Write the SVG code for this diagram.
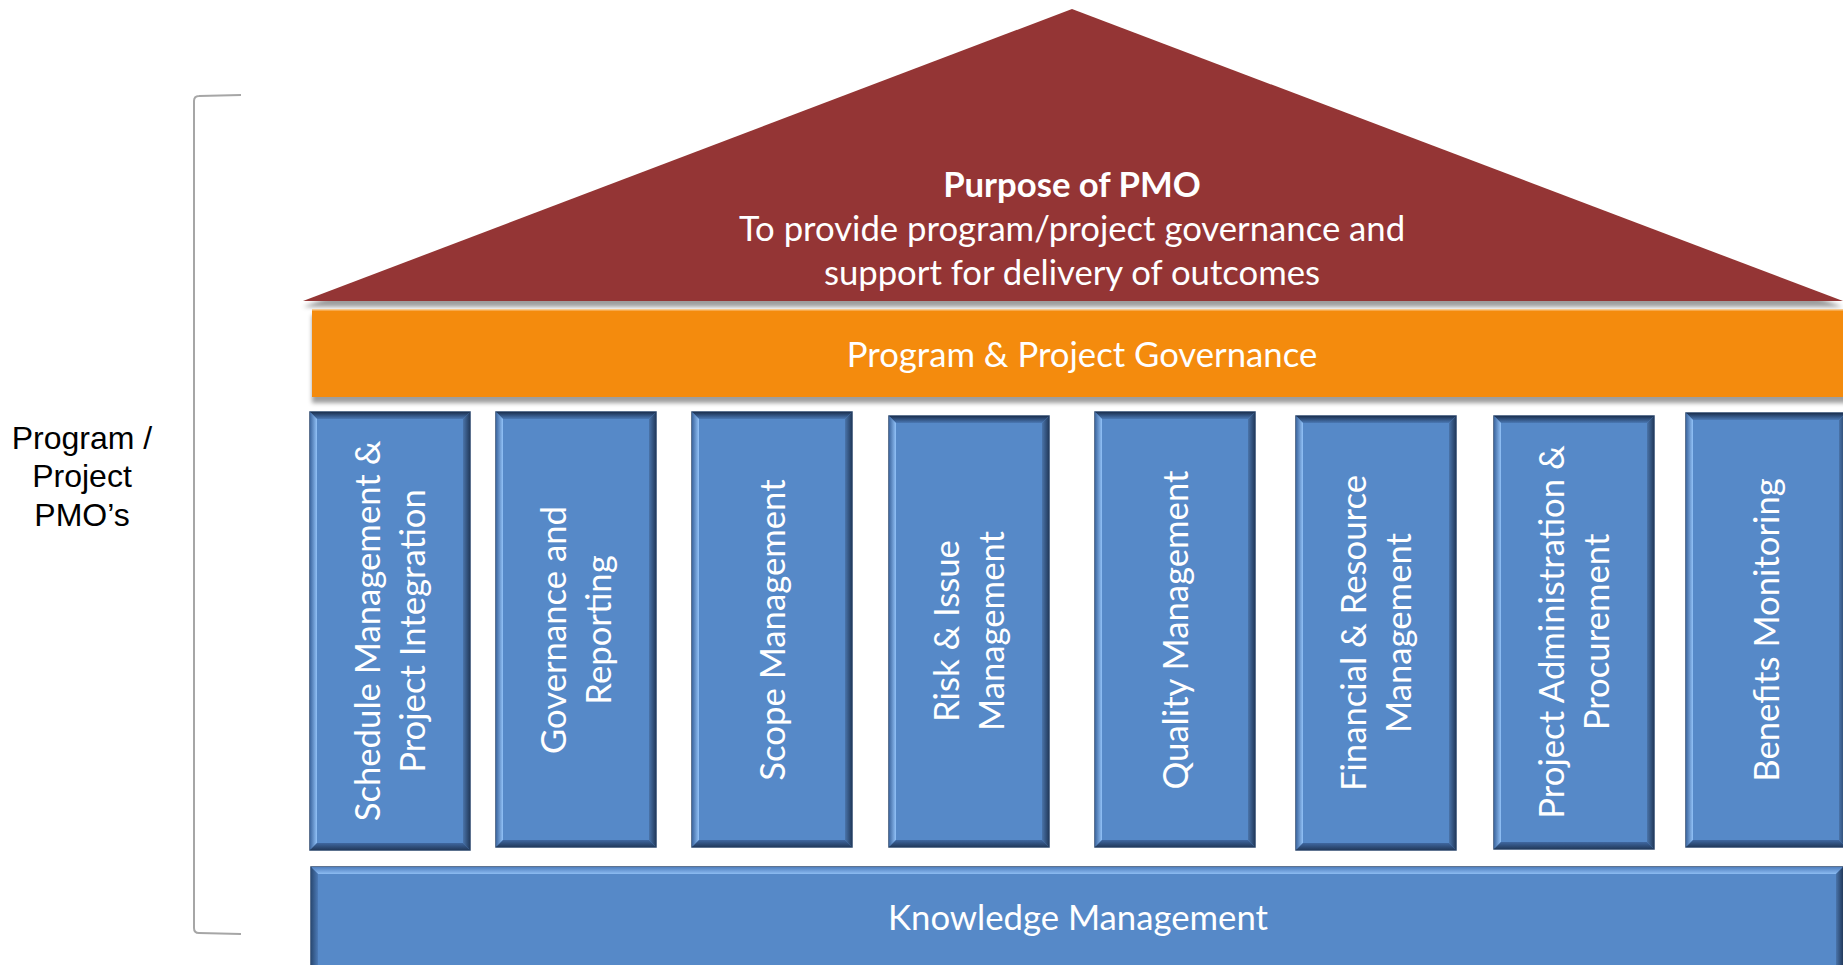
<svg xmlns="http://www.w3.org/2000/svg" xmlns:xlink="http://www.w3.org/1999/xlink" width="1843" height="965" viewBox="0 0 1843 965">
<style>
.lbl{font-family:Lato,"Open Sans","Liberation Sans",sans-serif;fill:#ffffff;font-size:34.7px;}
.side{font-family:"Liberation Sans",Arial,sans-serif;fill:#000000;font-size:32px;}
.bold{font-weight:bold;}
</style>
<defs>
<linearGradient id="gTop" x1="0" y1="0" x2="0" y2="1"><stop offset="0" stop-color="#1B3050"/><stop offset="1" stop-color="#4A78B4"/></linearGradient>
<linearGradient id="gLeft" x1="0" y1="0" x2="1" y2="0"><stop offset="0" stop-color="#3D67A0"/><stop offset="1" stop-color="#92C2F8"/></linearGradient>
<linearGradient id="gRight" x1="0" y1="0" x2="1" y2="0"><stop offset="0" stop-color="#4A74AA"/><stop offset="1" stop-color="#223A5C"/></linearGradient>
<linearGradient id="gBot" x1="0" y1="0" x2="0" y2="1"><stop offset="0" stop-color="#3F67A0"/><stop offset="1" stop-color="#223A5C"/></linearGradient>
<linearGradient id="gKTop" x1="0" y1="0" x2="0" y2="1"><stop offset="0" stop-color="#4F7FBF"/><stop offset="1" stop-color="#8DBCF2"/></linearGradient>
<linearGradient id="gKLeft" x1="0" y1="0" x2="1" y2="0"><stop offset="0" stop-color="#2A4A74"/><stop offset="1" stop-color="#4C7AB6"/></linearGradient>
<filter id="shadow" x="-5%" y="-20%" width="110%" height="150%">
<feDropShadow dx="0" dy="6" stdDeviation="2" flood-color="#000000" flood-opacity="0.38"/>
</filter>
<g id="col">
<rect x="0" y="0" width="160" height="436" fill="#5689C8" stroke="#2A466C" stroke-width="1.5"/>
<polygon points="0,0 160,0 153,7 7,7" fill="url(#gTop)"/>
<polygon points="0,0 7,7 7,429 0,436" fill="url(#gLeft)"/>
<polygon points="160,0 153,7 153,429 160,436" fill="url(#gRight)"/>
<polygon points="0,436 7,429 153,429 160,436" fill="url(#gBot)"/>
</g>
</defs>

<g id="connectors">
<path d="M241,95 L199,96 Q194,96 194,101 L194,928 Q194,933 199,933 L241,934" fill="none" stroke="#A6A6A6" stroke-width="2"/>
</g>

<g id="side-label">
<text class="side" text-anchor="middle" x="82" y="449">Program /</text>
<text class="side" text-anchor="middle" x="82" y="487">Project</text>
<text class="side" text-anchor="middle" x="82" y="526">PMO’s</text>
</g>

<g id="roof">
<polygon points="303,301 1072,9 1843,301" fill="#943634" filter="url(#shadow)"/>
<text class="lbl bold" text-anchor="middle" x="1072" y="197">Purpose of PMO</text>
<text class="lbl" text-anchor="middle" x="1072" y="241">To provide program/project governance and</text>
<text class="lbl" text-anchor="middle" x="1072" y="285">support for delivery of outcomes</text>
</g>

<g id="governance">
<rect x="312" y="309" width="1540" height="88" fill="#F48B0B" filter="url(#shadow)"/>
<rect x="312" y="309" width="1540" height="1.5" fill="#F9C88A"/>
<text class="lbl" text-anchor="middle" x="1082" y="367">Program &amp; Project Governance</text>
</g>

<g id="col1">
<use xlink:href="#col" href="#col" transform="translate(310,412) scale(1,1.0046)"/>
<text class="lbl" text-anchor="middle" transform="translate(390,631) rotate(-90)"><tspan x="0" y="-10">Schedule Management &amp;</tspan><tspan x="0" y="35">Project Integration</tspan></text>
</g>
<g id="col2">
<use xlink:href="#col" href="#col" transform="translate(496,412) scale(1,0.9977)"/>
<text class="lbl" text-anchor="middle" transform="translate(576,630) rotate(-90)"><tspan x="0" y="-10">Governance and</tspan><tspan x="0" y="35">Reporting</tspan></text>
</g>
<g id="col3">
<use xlink:href="#col" href="#col" transform="translate(692,412) scale(1,0.9977)"/>
<text class="lbl" text-anchor="middle" transform="translate(772,630) rotate(-90)"><tspan x="0" y="12.5">Scope Management</tspan></text>
</g>
<g id="col4">
<use xlink:href="#col" href="#col" transform="translate(889,416) scale(1,0.9885)"/>
<text class="lbl" text-anchor="middle" transform="translate(969,631) rotate(-90)"><tspan x="0" y="-10">Risk &amp; Issue</tspan><tspan x="0" y="35">Management</tspan></text>
</g>
<g id="col5">
<use xlink:href="#col" href="#col" transform="translate(1095,412) scale(1,0.9977)"/>
<text class="lbl" text-anchor="middle" transform="translate(1175,630) rotate(-90)"><tspan x="0" y="12.5">Quality Management</tspan></text>
</g>
<g id="col6">
<use xlink:href="#col" href="#col" transform="translate(1296,416) scale(1,0.9954)"/>
<text class="lbl" text-anchor="middle" transform="translate(1376,633) rotate(-90)"><tspan x="0" y="-10">Financial &amp; Resource</tspan><tspan x="0" y="35">Management</tspan></text>
</g>
<g id="col7">
<use xlink:href="#col" href="#col" transform="translate(1494,416) scale(1,0.9931)"/>
<text class="lbl" text-anchor="middle" transform="translate(1574,632) rotate(-90)"><tspan x="0" y="-10">Project Administration &amp;</tspan><tspan x="0" y="35">Procurement</tspan></text>
</g>
<g id="col8">
<use xlink:href="#col" href="#col" transform="translate(1686,413) scale(1,0.9954)"/>
<text class="lbl" text-anchor="middle" transform="translate(1766,630) rotate(-90)"><tspan x="0" y="12.5">Benefits Monitoring</tspan></text>
</g>

<g id="knowledge">
<rect x="311" y="867" width="1532" height="110" fill="#5689C8" stroke="#2A466C" stroke-width="1.5"/>
<polygon points="311,867 1843,867 1836,874 318,874" fill="url(#gKTop)"/>
<polygon points="311,867 318,874 318,977 311,977" fill="url(#gKLeft)"/>
<polygon points="1843,867 1836,874 1836,977 1843,977" fill="url(#gRight)"/>
<text class="lbl" text-anchor="middle" x="1078" y="930">Knowledge Management</text>
</g>
</svg>
